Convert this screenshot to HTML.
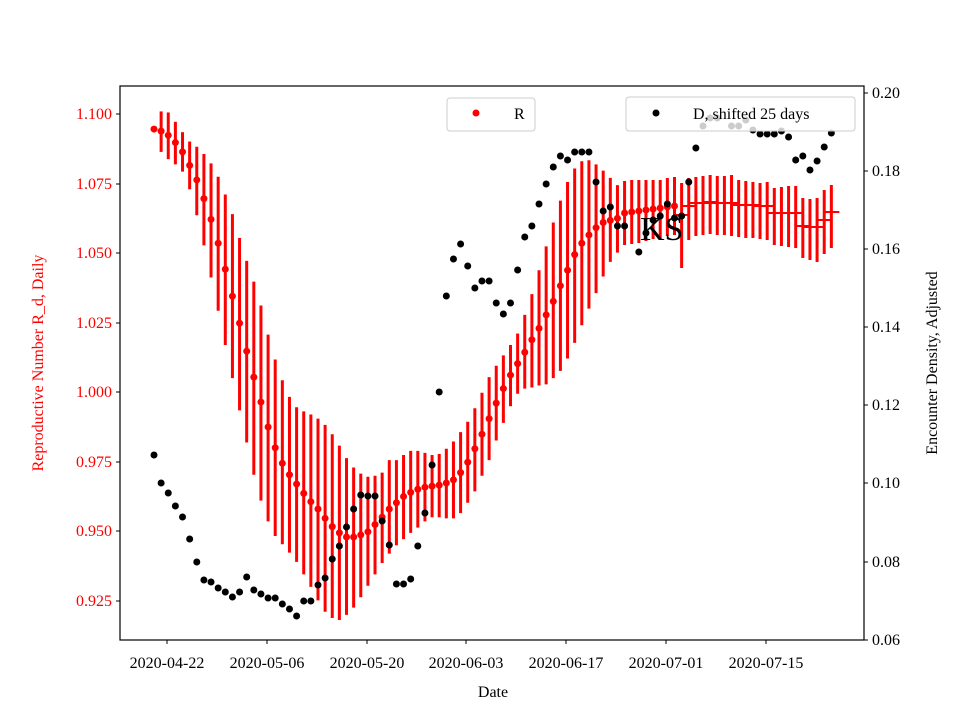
<!DOCTYPE html>
<html><head><meta charset="utf-8"><style>
body{margin:0;background:#fff;width:960px;height:720px;overflow:hidden}
text{font-family:"Liberation Serif",serif}
</style></head><body>
<svg id="s" width="960" height="720" xmlns="http://www.w3.org/2000/svg">
<rect width="960" height="720" fill="#fff"/>
<g id="data"></g>
<rect x="120" y="86" width="744" height="554" fill="none" stroke="#000" stroke-width="1.2"/>
<g id="ticks" font-size="16"></g>
<text x="493" y="697" font-size="16" text-anchor="middle">Date</text>
<text transform="translate(43,363) rotate(-90)" font-size="16" fill="red" text-anchor="middle">Reproductive Number R_d, Daily</text>
<text transform="translate(937,363) rotate(-90)" font-size="16" text-anchor="middle">Encounter Density, Adjusted</text>
<text x="640" y="240" font-size="34">KS</text>
<rect x="447" y="98" width="88" height="33" rx="3" fill="#fff" fill-opacity="0.8" stroke="#ccc"/>
<circle cx="476" cy="113" r="3.5" fill="red"/><text x="514" y="119" font-size="16">R</text>
<rect x="626" y="97" width="229" height="34" rx="3" fill="#fff" fill-opacity="0.8" stroke="#ccc"/>
<circle cx="656" cy="113" r="3.5" fill="#000"/><text x="693" y="119" font-size="16">D, shifted 25 days</text>
</svg>
<script>
var NS="http://www.w3.org/2000/svg",g=document.getElementById('data'),t=document.getElementById('ticks');
function el(n,a,p){var e=document.createElementNS(NS,n);for(var k in a)e.setAttribute(k,a[k]);(p||g).appendChild(e);return e;}
var S=1.038;function sy(y){return 100+(y-100)*S;}
var R=[[128,128,128],[130,111,150],[134,112,157],[141,121,162],[150,131,169],[163,140,186],[177,145,211],[195,152,240],[215,161,271],[238,174,303],[263,191,336],[289,210,368],[315,233,399],[342,255,430],[367,275,461],[391,298,486],[415,326,506],[435,350,520],[450,370,528],[461,386,536],[470,396,545],[479,400,557],[487,403,569],[494,407,582],[503,413,593],[511,422,599],[517,433,601],[521,445,596],[521,454,589],[519,460,579],[516,463,568],[509,462,557],[502,459,546],[494,447,537],[488,447,529],[482,442,523],[478,438,517],[475,438,512],[473,440,506],[472,442,502],[471,441,502],[469,436,503],[466,429,503],[459,420,498],[449,410,488],[436,397,477],[422,382,462],[407,367,447],[392,356,428],[378,346,411],[365,336,395],[354,325,383],[343,307,378],[331,287,377],[320,264,375],[307,241,374],[294,218,368],[279,197,361],[264,179,349],[249,166,334],[238,159,317],[230,158,301],[223,162,286],[218,168,270],[216,175,256],[214,182,247],[213,181,245],[212,180,244],[211,180,243],[210,180,241],[209,180,239],[208,180,238],[207,178,236],[206,177,235],[215,183,268],[206,178,240],[203,177,236],[203,176,235],[202,175,234],[203,176,235],[203,176,235],[203,175,236],[205,180,237],[205,181,238],[205,182,238],[206,183,239],[206,182,240],[213,188,245],[213,187,246],[213,186,247],[213,186,248],[226,198,258],[227,199,260],[227,198,262],[220,190,254],[212,185,248]];
R.forEach(function(r,i){if(i<=65)r=r.map(sy);var x=154+7.13*i;if(i>0)el('line',{x1:x,x2:x,y1:r[1],y2:r[2],stroke:'red','stroke-width':3});
if(i<74)el('circle',{cx:x,cy:r[0],r:3.5,fill:'red'});else el('line',{x1:x-8,x2:x+8,y1:r[0],y2:r[0],stroke:'red','stroke-width':2});});
var DY=[455,483,493,506,517,539,562,580,582,588,592,597,592,577,590,594,598,598,604,609,616,601,601,585,578,559,546,527,509,495,496,496,521,545,584,584,579,546,513,465,392,296,259,244,266,288,281,281,303,314,303,270,237,226,204,184,167,156,160,152,152,152,182,211,207,226,226];
var pts={};DY.forEach(function(y,k){pts[k]=y;});
var D3=[[637,252],[644,233],[651,220],[658,216],[665,204],[672,218],[679,216],[687,182],[695,148],[703,126],[709,118],[717,118],[731,126],[737,126],[745,120],[752,130],[759,134],[766,134],[773,134],[780,131],[787,137],[795,160],[802,156],[809,170],[816,161],[823,147],[830,133]];
D3.forEach(function(d){pts[Math.round((d[0]-154)/7.13)]=d[1];});
for(var k in pts)el('circle',{cx:154+7.13*k,cy:pts[k],r:3.5,fill:'#000'});
var ly=[[114,'1.100'],[184,'1.075'],[253,'1.050'],[323,'1.025'],[392,'1.000'],[462,'0.975'],[531,'0.950'],[601,'0.925']];
ly.forEach(function(a){el('line',{x1:116,x2:120,y1:a[0],y2:a[0],stroke:'#000'},t);var e=el('text',{x:112,y:a[0]+5,'text-anchor':'end',fill:'red'},t);e.textContent=a[1];});
var ry=[[93,'0.20'],[171,'0.18'],[249,'0.16'],[327,'0.14'],[405,'0.12'],[483,'0.10'],[562,'0.08'],[640,'0.06']];
ry.forEach(function(a){el('line',{x1:864,x2:868,y1:a[0],y2:a[0],stroke:'#000'},t);var e=el('text',{x:872,y:a[0]+5},t);e.textContent=a[1];});
var xs=[[167,'2020-04-22'],[267,'2020-05-06'],[367,'2020-05-20'],[466,'2020-06-03'],[566,'2020-06-17'],[666,'2020-07-01'],[766,'2020-07-15']];
xs.forEach(function(a){el('line',{x1:a[0],x2:a[0],y1:640,y2:644,stroke:'#000'},t);var e=el('text',{x:a[0],y:668,'text-anchor':'middle'},t);e.textContent=a[1];});
</script>
</body></html>
